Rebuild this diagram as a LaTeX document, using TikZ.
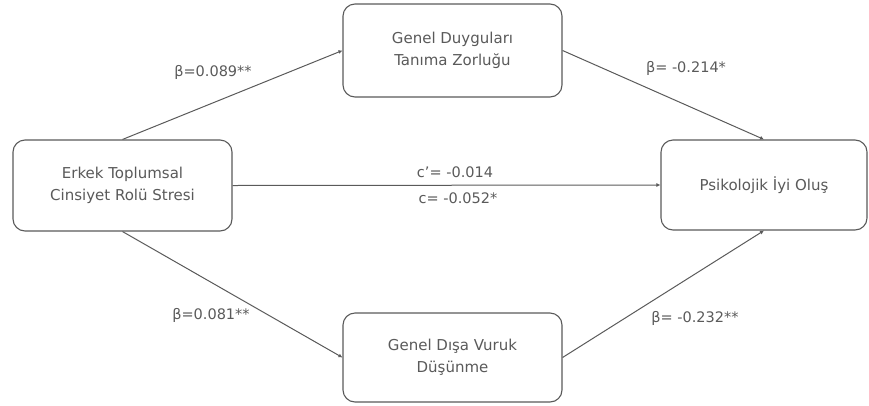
\documentclass[tikz,border=0pt]{standalone}
\usepackage{fontspec}
\setmainfont{DejaVu Sans}
\usetikzlibrary{arrows.meta}
\definecolor{txtgray}{HTML}{5A5A5A}
\definecolor{linegray}{HTML}{5A5A5A}
\tikzset{
  varbox/.style={draw=linegray, line width=1.1pt, rounded corners=12pt, fill=white,
    align=center, text=txtgray, font=\fontsize{15}{22}\selectfont},
  path/.style={draw=linegray, line width=1pt, -{Latex[length=4pt,width=4pt]}},
  coef/.style={text=txtgray, font=\fontsize{14.5}{18}\selectfont}
}
\begin{document}
\begin{tikzpicture}[x=1pt, y=-1pt]
  \useasboundingbox (0,0) rectangle (869,405);
  % Variables
  \node[varbox, minimum width=219pt, minimum height=91pt] (stres) at (122.5,185.5){Erkek Toplumsal\\Cinsiyet Rolü Stresi};
  \node[varbox, minimum width=219pt, minimum height=93pt] (tanima) at (452.5,50.5){Genel Duyguları\\Tanıma Zorluğu};
  \node[varbox, minimum width=219pt, minimum height=89pt] (dusunme) at (452.5,357.5){Genel Dışa Vuruk\\Düşünme};
  \node[varbox, minimum width=206pt, minimum height=90pt] (iyiolus) at (764,185){Psikolojik İyi Oluş};
  % Paths
  \draw[path] (stres.north) -- (tanima.west);
  \draw[path] (tanima.east) -- (iyiolus.north);
  \draw[path] (stres.east) -- (iyiolus.west);
  \draw[path] (stres.south) -- (dusunme.west);
  \draw[path] (dusunme.east) -- (iyiolus.south);
  % Coefficients
  \node[coef] (b1) at (213,72){β=0.089**};
  \node[coef] (b2) at (686,68){β= -0.214*};
  \node[coef] (cp) at (455,172){c'= -0.014};
  \node[coef] (c) at (458,198){c= -0.052*};
  \node[coef] (b3) at (211,315){β=0.081**};
  \node[coef] (b4) at (695,318){β= -0.232**};
\end{tikzpicture}
\end{document}
